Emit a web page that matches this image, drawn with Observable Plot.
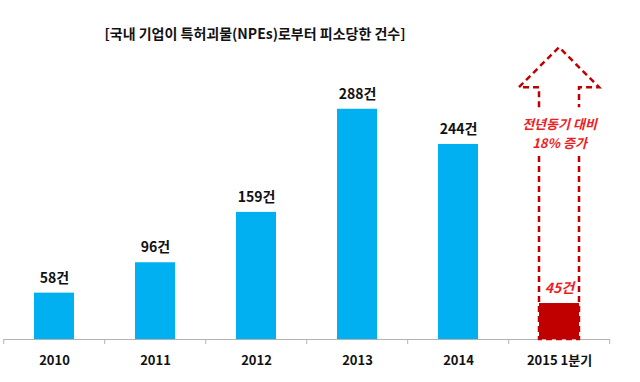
<!DOCTYPE html>
<html><head><meta charset="utf-8">
<script src="https://cdn.jsdelivr.net/npm/d3@7"></script>
<script src="https://cdn.jsdelivr.net/npm/@observablehq/plot@0.6"></script>
<style>
body{margin:0;background:#fff;}
#title{width:510px;height:44px;box-sizing:border-box;padding-top:23px;line-height:20px;text-align:center;font:bold 14px "Noto Sans CJK KR",sans-serif;color:#111;white-space:nowrap;}
</style></head><body>
<div id="title"></div>
<div id="chart"></div>
<script>
const titleText = "[국내 기업이 특허괴물(NPEs)로부터 피소당한 건수]";
const categories = ["2010", "2011", "2012", "2013", "2014", "2015 1분기"];
const values = [58, 96, 159, 288, 244, 45];
const unit = "건";
const highlight = "2015 1분기";
const arrowNote = "전년동기 대비\n18% 증가";
const arrowTipValue = 365;
const arrowWingValue = 315;
const arrowGap = [229, 290];
const noteValue = 259;

const blue = "#00b0f0";
const darkRed = "#c00000";
const red = "#f01c24";
const font = "'Noto Sans CJK KR', sans-serif";

document.getElementById("title").textContent = titleText;
const data = categories.map((c, i) => ({category: c, value: values[i]}));
const normal = data.filter(d => d.category !== highlight);
const hi = data.filter(d => d.category === highlight);

function axisMark(index, scales) {
  const x = scales.x, y = scales.y;
  const step = x.step(), half = step * x.paddingInner() / 2;
  const y0 = y(0);
  const g = d3.create("svg:g").attr("stroke", "#b3b3b3").attr("stroke-width", 1);
  const bounds = categories.map(c => x(c) - half);
  bounds.push(bounds[bounds.length - 1] + step);
  g.append("line").attr("x1", bounds[0]).attr("x2", bounds[bounds.length - 1])
    .attr("y1", y0 + 0.5).attr("y2", y0 + 0.5);
  for (const b of bounds) {
    g.append("line").attr("x1", b).attr("x2", b).attr("y1", y0).attr("y2", y0 + 5);
  }
  return g.node();
}

function arrowMark(index, scales) {
  const x = scales.x, y = scales.y;
  const bw = x.bandwidth();
  const cx = x(highlight) + bw / 2;
  const y0 = y(0), yw = y(arrowWingValue), yt = y(arrowTipValue);
  const g0 = y(arrowGap[0]), g1 = y(arrowGap[1]);
  const L = cx - bw / 2, R = cx + bw / 2;
  const head = [[L, g1], [L, yw], [cx - bw, yw], [cx, yt], [cx + bw, yw], [R, yw], [R, g1]];
  const base = [[L, g0], [L, y0], [R, y0], [R, g0]];
  return d3.create("svg:path")
    .attr("d", d3.line()(head) + d3.line()(base))
    .attr("fill", "none")
    .attr("stroke", darkRed)
    .attr("stroke-width", 2.5)
    .attr("stroke-dasharray", "6,4")
    .node();
}

const chart = Plot.plot({
  width: 640,
  height: 338,
  marginLeft: 2,
  marginRight: 29,
  marginTop: 0,
  marginBottom: 43,
  style: {fontFamily: font, background: "#fff"},
  x: {type: "band", domain: categories, paddingInner: 0.6, paddingOuter: 0.3, axis: null},
  y: {domain: [0, 369], axis: null},
  marks: [
    Plot.barY(normal, {x: "category", y: "value", fill: blue}),
    Plot.barY(hi, {x: "category", y: "value", fill: darkRed}),
    axisMark,
    arrowMark,
    Plot.text(normal, {x: "category", y: "value", text: d => d.value + unit, dy: -15,
      fontSize: 14, fontWeight: "bold", fill: "#111"}),
    Plot.text(hi, {x: "category", y: "value", text: d => d.value + unit, dy: -15,
      fontSize: 14, fontWeight: "bold", fontStyle: "italic", fill: red}),
    Plot.text(hi, {x: "category", y: () => noteValue, text: () => arrowNote,
      fontSize: 13, fontWeight: "bold", fontStyle: "italic", fill: red, lineHeight: 1.45}),
    Plot.text(categories, {x: d => d, y: () => 0, text: d => d, dy: 21,
      fontSize: 13, fontWeight: "bold", fill: "#111"})
  ]
});
document.getElementById("chart").appendChild(chart);
</script>
</body></html>
